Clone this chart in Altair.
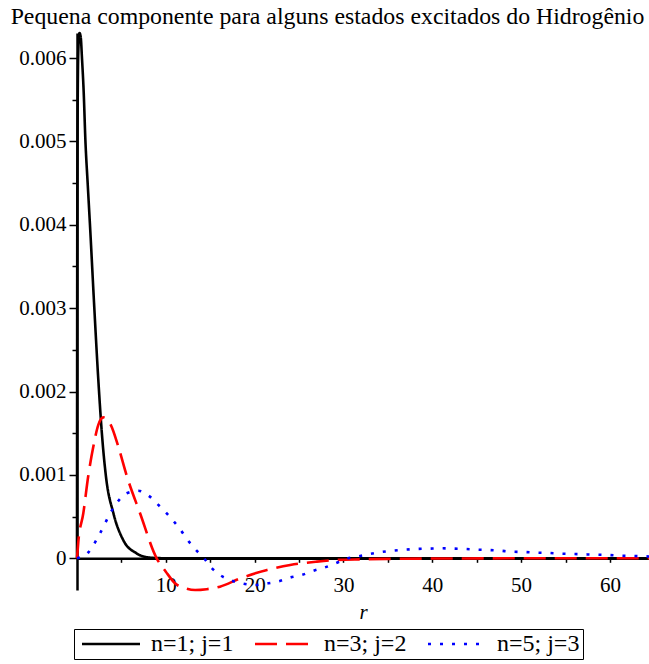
import altair as alt
import pandas as pd

FONT = "Times New Roman, Liberation Serif, serif"

series_labels = ["n=1; j=1", "n=3; j=2", "n=5; j=3"]
series_colors = ["#000000", "#ff0000", "#0000ff"]
series_dashes = [[1, 0], [22, 9], [3, 9]]

# n=1; j=1
r_n1 = [0, 0.03, 0.08, 0.15, 0.28, 0.42, 0.56, 0.75, 0.95, 1.2, 1.46, 1.95,
        2.4, 2.8, 3.25, 4.1, 5.2, 6.7, 8.2, 10, 20, 40, 64.4]
v_n1 = [0, 0.0040, 0.0055, 0.0061, 0.0063, 0.00625, 0.0060, 0.0056, 0.0050,
        0.0045, 0.0040, 0.0030, 0.00214, 0.0015, 0.00099, 0.00054, 0.00022,
        0.00006, 0.000008, 0.000001, 0, 0, 0]

# n=3; j=2
r_n3 = [0, 0.15, 0.71, 1.27, 1.84, 2.4, 2.96, 3.8, 4.65, 5.6, 7.1, 8.97, 10.0,
        11.04, 12.2, 13.3, 14.6, 16.1, 18.4, 21.4, 24, 27, 29.2, 32, 36, 42,
        50, 64.4]
v_n3 = [0, 0.0002, 0.00054, 0.00099, 0.00134, 0.00160, 0.00169, 0.00160,
        0.00134, 0.00099, 0.00054, 0, -0.00016, -0.0003, -0.00036, -0.00038,
        -0.00037, -0.00034, -0.00024, -0.00014, -0.00008, -0.00004, -0.00002,
        -0.000012, -0.000006, -0.000002, 0, 0]

# n=5; j=3
r_n5 = [0, 1.27, 2.59, 3.9, 5.6, 6.9, 8.2, 9.16, 10.1, 11.0, 11.8, 12.6, 13.4,
        14.3, 15.2, 16.1, 17.2, 18.5, 20.0, 21.5, 22.9, 24.0, 25.3, 26.6, 27.9,
        29.1, 30.5, 31.7, 33.0, 34.3, 35.6, 36.9, 38.3, 39.6, 41.1, 42.4, 43.7,
        45.0, 46.3, 47.6, 48.9, 50.3, 51.8, 53.1, 54.4, 55.7, 57.0, 58.3, 59.8,
        61.1, 62.4, 63.7, 64.4]
v_n5 = [0, 0.00007, 0.0003, 0.00057, 0.00078, 0.00081, 0.00074, 0.00064,
        0.00054, 0.00043, 0.00032, 0.0002, 0.0001, 0, -0.00012, -0.0002,
        -0.00026, -0.0003, -0.00032, -0.0003, -0.00027, -0.00023, -0.0002,
        -0.00015, -0.00011, -0.00006, 0, 0.000024, 0.000052, 0.000076,
        0.000092, 0.000104, 0.000112, 0.000116, 0.00012, 0.000116, 0.000112,
        0.000104, 0.0001, 0.000092, 0.00008, 0.000076, 0.000068, 0.000064,
        0.000056, 0.000052, 0.000048, 0.000044, 0.00004, 0.000032, 0.000028,
        0.000024, 0.000022]

x_ticks = [5, 10, 15, 20, 25, 30, 35, 40, 45, 50, 55, 60]
y_ticks = [0, 0.0005, 0.001, 0.0015, 0.002, 0.0025, 0.003, 0.0035, 0.004,
           0.0045, 0.005, 0.0055, 0.006]

x_domain = [0, 64.4]
y_domain = [-0.00038, 0.0063]

frames = []
for label, rs, vs in zip(series_labels, [r_n1, r_n3, r_n5], [v_n1, v_n3, v_n5]):
    frames.append(pd.DataFrame({"r": rs, "valor": vs, "curva": label}))
df = pd.concat(frames, ignore_index=True)

PLOT_W, PLOT_H = 572, 557
# x axis sits on valor = 0 instead of the bottom edge
zero_offset = -PLOT_H * (0 - y_domain[0]) / (y_domain[1] - y_domain[0])

# legend swatch: a wide horizontal stroke with a small nominal symbol size,
# so the legend row stays short
SWATCH = "M-2.9,0H2.9"

legend = alt.Legend(
    title=None,
    orient="none",
    legendX=-3,
    legendY=596,
    direction="horizontal",
    symbolType=SWATCH,
    symbolSize=400,
    symbolOffset=22,
    symbolStrokeWidth=2.6,
    labelFont=FONT,
    labelFontSize=24,
    labelColor="black",
    labelOffset=28,
    columnPadding=15,
    padding=3,
    strokeColor="black",
)

chart = alt.Chart(df).mark_line(
    strokeWidth=2.6, interpolate="monotone", strokeCap="butt"
).encode(
    x=alt.X(
        "r:Q",
        scale=alt.Scale(domain=x_domain, nice=False, zero=False),
        axis=alt.Axis(
            values=x_ticks,
            labelExpr="datum.value % 10 == 0 ? datum.label : ''",
            format="d",
            grid=False,
            offset=zero_offset,
            domainColor="black",
            domainWidth=2.5,
            tickColor="black",
            tickWidth=1.5,
            tickSize=4,
            labelFont=FONT,
            labelFontSize=21,
            labelColor="black",
            labelPadding=12,
            labelOverlap=False,
            title="r",
            titleFont=FONT,
            titleFontSize=21,
            titleFontStyle="italic",
            titleFontWeight="normal",
            titleColor="black",
            titlePadding=6,
        ),
    ),
    y=alt.Y(
        "valor:Q",
        scale=alt.Scale(domain=y_domain, nice=False, zero=False),
        axis=alt.Axis(
            values=y_ticks,
            labelExpr="round(datum.value*10000) % 10 != 0 ? '' : (datum.value == 0 ? '0' : format(datum.value, '.3f'))",
            grid=False,
            domainColor="black",
            domainWidth=2.5,
            tickColor="black",
            tickWidth=1.5,
            tickSize={"condition": {"test": "round(datum.value*10000) % 10 == 0", "value": 8}, "value": 5},
            labelFont=FONT,
            labelFontSize=21,
            labelColor="black",
            labelPadding=3,
            labelOverlap=False,
            title=None,
        ),
    ),
    color=alt.Color(
        "curva:N",
        scale=alt.Scale(domain=series_labels, range=series_colors),
        legend=legend,
    ),
    strokeDash=alt.StrokeDash(
        "curva:N",
        scale=alt.Scale(domain=series_labels, range=series_dashes),
        legend=legend,
    ),
).properties(
    width=PLOT_W,
    height=PLOT_H,
    title=alt.TitleParams(
        text="Pequena componente para alguns estados excitados do Hidrogênio",
        font=FONT,
        fontSize=23.8,
        fontWeight="normal",
        color="black",
        anchor="middle",
        frame="group",
        dx=-35.5,
        dy=24,
        baseline="alphabetic",
        offset=4,
    ),
    autosize=alt.AutoSizeParams(type="none"),
    padding={"left": 77, "top": 33, "right": 0, "bottom": 74},
    background="white",
).configure_view(stroke=None)

chart.save("out.html", embed_options={"renderer": "svg", "actions": False})
